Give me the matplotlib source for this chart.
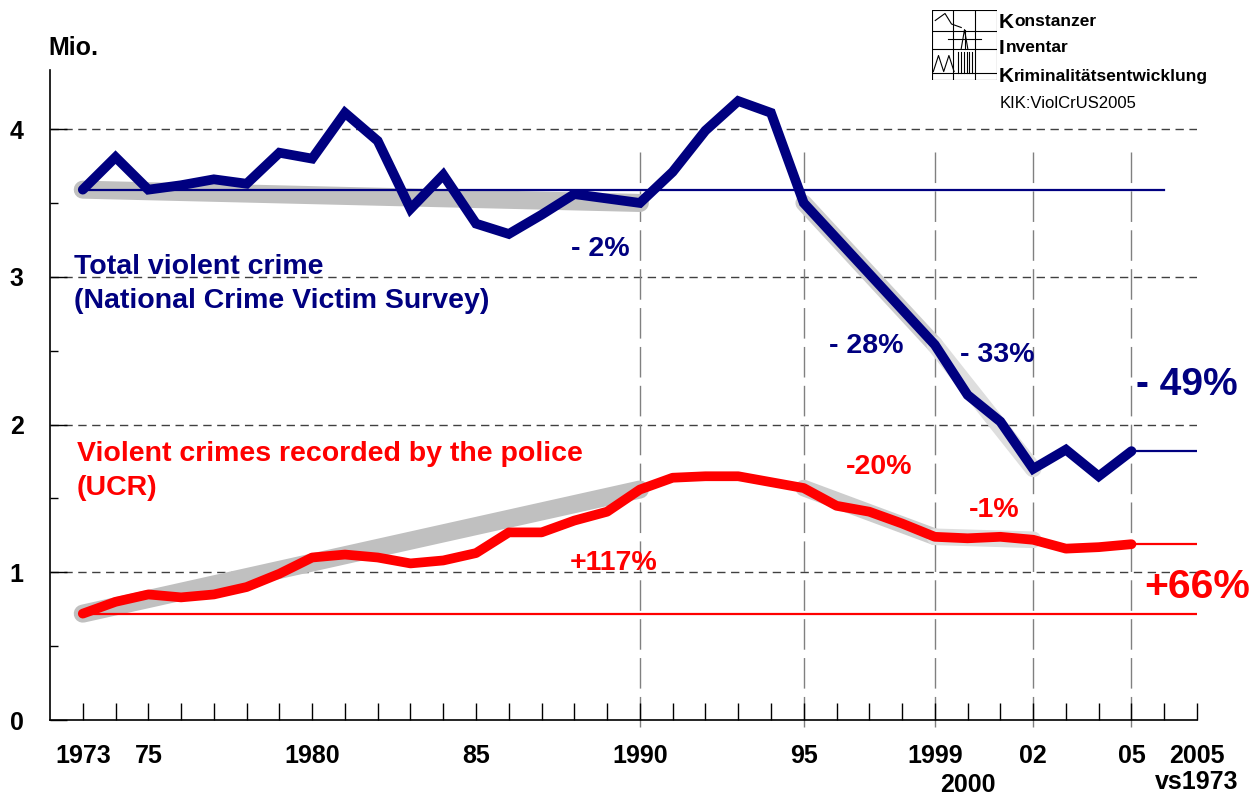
import numpy as np
import matplotlib
matplotlib.use("Agg")
import matplotlib.pyplot as plt

plt.rcParams['font.family'] = ['Liberation Sans', 'DejaVu Sans']

years = list(range(1973, 2006))

# NCVS total violent crime, millions
ncvs = [3.59, 3.81, 3.59, 3.62, 3.66, 3.63, 3.84, 3.80, 4.11, 3.92, 3.46,
        3.69, 3.36, 3.29, 3.42, 3.56, 3.53, 3.50, 3.71, 3.99, 4.19, 4.11,
        3.50, 3.26, 3.02, 2.78, 2.54, 2.20, 2.02, 1.70, 1.83, 1.65, 1.82]

# UCR violent crimes recorded by the police, millions
ucr = [0.72, 0.80, 0.85, 0.83, 0.85, 0.90, 0.99, 1.10, 1.12, 1.10, 1.06,
       1.08, 1.13, 1.27, 1.27, 1.35, 1.41, 1.56, 1.64, 1.65, 1.65, 1.61,
       1.57, 1.45, 1.41, 1.33, 1.24, 1.23, 1.24, 1.22, 1.16, 1.17, 1.19]

# trend periods (start year, end year)
periods = [(1973, 1990), (1995, 1999), (1999, 2002)]

marked_years = [1990, 1995, 1999, 2002, 2005]

tick_labels = {1973: "1973", 1975: "75", 1980: "1980", 1985: "85",
               1990: "1990", 1995: "95", 1999: "1999",
               2002: "02", 2005: "05", 2007: "2005\nvs1973"}

navy = "#000080"
red = "#ff0000"

fig = plt.figure(figsize=(12.6, 7.98), dpi=100)
ax = fig.add_axes([50 / 1260, 78 / 798, 1147 / 1260, 650 / 798])
ax.set_xlim(1972, 2007)
ax.set_ylim(0, 4.4)

def val(series, yr):
    return series[years.index(yr)]

# horizontal dashed grid
for g in [1, 2, 3, 4]:
    ax.plot([1972, 2007], [g, g], color="#404040", lw=1.0,
            dashes=(6, 4), zorder=1)

# vertical marker lines
for yr in marked_years:
    ax.plot([yr, yr], [-0.05, 3.87], color="#808080", lw=1.0,
            dashes=(22, 6), zorder=1, clip_on=False)

# grey trend lines
grey_cols = ["#c0c0c0", "#cdcdcd", "#dedede"]
grey_w = [13, 12, 12]
for series in (ncvs, ucr):
    for (a, b), c, w in zip(periods, grey_cols, grey_w):
        ax.plot([a, b], [val(series, a), val(series, b)], color=c, lw=w,
                solid_capstyle="round", zorder=2)

# reference lines
ax.plot([1973, 2006], [ncvs[0], ncvs[0]], color=navy, lw=1.6, zorder=3)
ax.plot([2005, 2007], [ncvs[-1], ncvs[-1]], color=navy, lw=1.6, zorder=3)
ax.plot([1973, 2007], [ucr[0], ucr[0]], color=red, lw=1.6, zorder=3)
ax.plot([2005, 2007], [ucr[-1], ucr[-1]], color=red, lw=1.6, zorder=3)

# data lines
ax.plot(years, ncvs, color=navy, lw=7, solid_capstyle="round",
        solid_joinstyle="miter", zorder=4)
ax.plot(years, ucr, color=red, lw=7, solid_capstyle="round",
        solid_joinstyle="round", zorder=4)

# axes styling
for s in ["top", "right"]:
    ax.spines[s].set_visible(False)
ax.spines["left"].set_linewidth(1.2)
ax.spines["bottom"].set_linewidth(1.2)

ax.set_xticks(list(range(1973, 2008)))
ax.set_xticklabels([tick_labels.get(y, "") for y in range(1973, 2008)],
                   fontsize=18, fontweight="bold", linespacing=1.15)
ax.tick_params(axis="x", direction="in", length=12, width=1.0, pad=17)
ax.text(2000, -0.36, "2000", fontsize=18, fontweight="bold", ha="center",
        va="top", clip_on=False)
ax.set_yticks([0, 1, 2, 3, 4])
ax.set_yticklabels(["0", "1", "2", "3", "4"], fontsize=18, fontweight="bold")
ax.set_yticks([0.5, 1.5, 2.5, 3.5], minor=True)
ax.tick_params(axis="y", which="major", direction="in", length=12,
               width=1.0, pad=19)
ax.tick_params(axis="y", which="minor", direction="in", length=6, width=1.0)

fig.text(48 / 1260, 1 - 48 / 798, "Mio.", fontsize=18, fontweight="bold",
         va="center", ha="left")

# series labels
ax.text(1972.72, 3.02, "Total violent crime", color=navy, fontsize=20.5,
        fontweight="bold", va="baseline")
ax.text(1972.72, 2.79, "(National Crime Victim Survey)", color=navy,
        fontsize=20.5, fontweight="bold", va="baseline")
ax.text(1972.82, 1.75, "Violent crimes recorded by the police", color=red,
        fontsize=20.5, fontweight="bold", va="baseline")
ax.text(1972.82, 1.52, "(UCR)", color=red, fontsize=20.5, fontweight="bold",
        va="baseline")

# percent annotations
bold = dict(fontweight="bold", ha="center", va="center")
ax.text(1988.8, 3.19, "- 2%", color=navy, fontsize=20.5, **bold)
ax.text(1996.9, 2.53, "- 28%", color=navy, fontsize=20.5, **bold)
ax.text(2000.9, 2.47, "- 33%", color=navy, fontsize=20.5, **bold)
ax.text(2006.7, 2.27, "- 49%", color=navy, fontsize=28, clip_on=False, **bold)
ax.text(1997.3, 1.71, "-20%", color=red, fontsize=20.5, **bold)
ax.text(2000.8, 1.42, "-1%", color=red, fontsize=20.5, **bold)
ax.text(1989.2, 1.06, "+117%", color=red, fontsize=20.5, **bold)
ax.text(2007.0, 0.90, "+66%", color=red, fontsize=29.5, clip_on=False, **bold)

# logo box
lg = fig.add_axes([932 / 1260, 1 - 80 / 798, 65 / 1260, 70 / 798])
lg.set_xlim(0, 1)
lg.set_ylim(0, 1)
lg.axis("off")
lk = dict(color="black", lw=0.8)
lg.plot([0, 1, 1, 0, 0], [0, 0, 1, 1, 0], **lk)
for xv in [0.33, 0.66]:
    lg.plot([xv, xv], [0, 1], **lk)
for yv in [0.1, 0.45, 0.7]:
    lg.plot([0, 1], [yv, yv], **lk)
lg.plot([0.25, 0.75], [0.58, 0.58], **lk)
lg.plot([0.05, 0.2, 0.3, 0.45], [0.85, 0.95, 0.8, 0.75], **lk)
for xv in np.linspace(0.4, 0.62, 6):
    lg.plot([xv, xv], [0.1, 0.4], **lk)
lg.plot([0.5, 0.5], [0.45, 0.72], **lk)
lg.plot([0.45, 0.5, 0.55], [0.45, 0.72, 0.45], **lk)
lg.plot([0.02, 0.1, 0.18, 0.26, 0.34], [0.12, 0.35, 0.12, 0.35, 0.12], **lk)

fig.text(999 / 1260, 1 - 22 / 798, "K", fontsize=15, fontweight="bold",
         va="center")
fig.text(1014 / 1260, 1 - 22 / 798, "onstanzer", fontsize=12.5,
         fontweight="bold", va="center")
fig.text(999 / 1260, 1 - 48 / 798, "I", fontsize=15, fontweight="bold",
         va="center")
fig.text(1006 / 1260, 1 - 48 / 798, "nventar", fontsize=12.5,
         fontweight="bold", va="center")
fig.text(999 / 1260, 1 - 76 / 798, "K", fontsize=15, fontweight="bold",
         va="center")
fig.text(1014 / 1260, 1 - 76 / 798, "riminalitätsentwicklung", fontsize=12.5,
         fontweight="bold", va="center")
fig.text(1000 / 1260, 1 - 103 / 798, "KIK:ViolCrUS2005", fontsize=12,
         va="center")

fig.savefig("out.png", dpi=100)
